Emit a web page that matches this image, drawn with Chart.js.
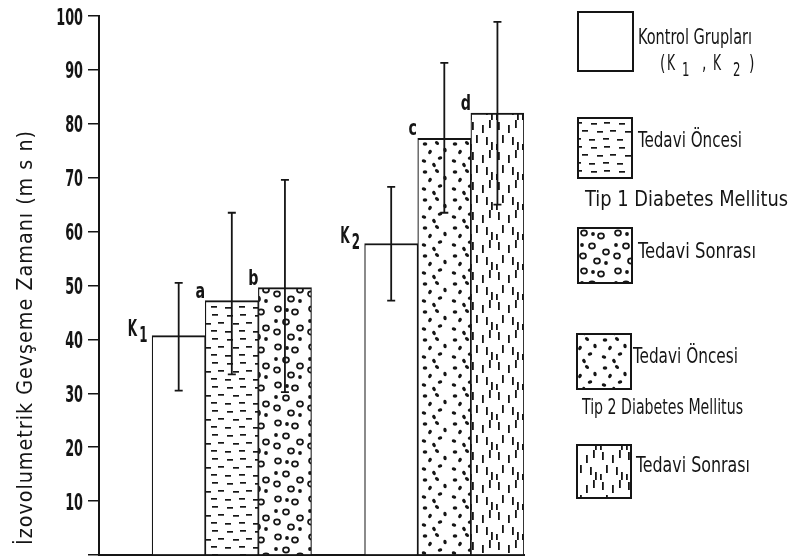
<!DOCTYPE html>
<html>
<head>
<meta charset="utf-8">
<script src="https://cdn.jsdelivr.net/npm/chart.js@4.4.1/dist/chart.umd.min.js"></script>
<style>
  html, body { margin: 0; padding: 0; background: #fff; }
  #wrap { position: relative; width: 791px; height: 558px; }
</style>
</head>
<body>
<div id="wrap"><canvas id="chart" width="791" height="558"></canvas></div>
<script>
// ---- data ----
var slots     = ['', 'K1', 'a', 'b', '', 'K2', 'c', 'd'];
var means     = [null, 40.7, 47.2, 49.6, null, 57.8, 77.3, 82.0];
var errLow    = [null, 30.5, 33.5, 30.2, null, 47.2, 63.5, 65.0];
var errHigh   = [null, 50.5, 63.5, 69.6, null, 68.3, 91.3, 98.9];
var barSeries = [null, 0, 1, 2, null, 0, 3, 4];
var barMain   = [null, 'K', 'a', 'b', null, 'K', 'c', 'd'];
var barSub    = [null, '1', '', '', null, '2', '', ''];

var yTitle       = 'İzovolumetrik Gevşeme Zamanı (m s n)';
var seriesLabels = ['Kontrol Grupları', 'Tedavi Öncesi', 'Tedavi Sonrası', 'Tedavi Öncesi', 'Tedavi Sonrası'];
var groupLabels  = ['Tip 1 Diabetes Mellitus', 'Tip 2 Diabetes Mellitus'];

var FONT = "'DejaVu Sans Condensed', 'DejaVu Sans', sans-serif";
var INK = '#151515';

// ---- fill patterns (hand placed marks in a tile) ----
function makeTile(w, h, draw) {
    var c = document.createElement('canvas');
    c.width = w; c.height = h;
    var g = c.getContext('2d');
    g.fillStyle = '#fff';
    g.fillRect(0, 0, w, h);
    g.fillStyle = INK;
    g.strokeStyle = INK;
    draw(g);
    return c;
}

var tiles = [
    makeTile(8, 8, function (g) {}),
    makeTile(28, 24, function (g) {            // short horizontal dashes
        [[3,3],[16,2],[9,11],[22,10],[1,19],[15,18]].forEach(function (p) { g.fillRect(p[0], p[1], 6, 1.7); });
    }),
    makeTile(34, 38, function (g) {            // rings and a few dots
        g.lineWidth = 1.7;
        [[6,5],[23,8],[14,18],[28,24],[5,28],[19,33]].forEach(function (p) {
            g.beginPath(); g.ellipse(p[0], p[1], 3, 2.6, 0, 0, Math.PI * 2); g.stroke();
        });
        [[15,6],[28,35],[4,17]].forEach(function (p) {
            g.beginPath(); g.arc(p[0], p[1], 1.9, 0, Math.PI * 2); g.fill();
        });
    }),
    makeTile(30, 28, function (g) {            // filled dots
        [[5,4],[17,3],[25,10],[10,12],[20,18],[4,21],[14,25]].forEach(function (p, i) {
            g.beginPath(); g.ellipse(p[0], p[1], 2.3, 1.7, i * 0.7, 0, Math.PI * 2); g.fill();
        });
    }),
    makeTile(26, 30, function (g) {            // short vertical dashes
        [[4,2],[14,5],[21,0],[8,15],[18,17],[2,24],[23,22]].forEach(function (p) {
            g.fillRect(p[0], p[1], 1.8, 8);
        });
    })
];

var ctx = document.getElementById('chart').getContext('2d');
var fills = tiles.map(function (t) { return ctx.createPattern(t, 'repeat'); });

// condensed text: draw squeezed horizontally by sx
function sqText(g, txt, x, y, size, sx, align, weight) {
    g.save();
    g.font = (weight || 'bold') + ' ' + size + 'px ' + FONT;
    g.textAlign = align || 'left';
    g.textBaseline = 'alphabetic';
    g.translate(x, y);
    g.scale(sx, 1);
    g.fillText(txt, 0, 0);
    g.restore();
}

// text fitted to a given width
function fitText(g, txt, x, y, size, width, spacing, weight) {
    g.save();
    g.font = (weight || 'bold') + ' ' + size + 'px ' + FONT;
    g.letterSpacing = (spacing || 0) + 'px';
    var w = g.measureText(txt).width;
    g.textAlign = 'left';
    g.textBaseline = 'alphabetic';
    g.translate(x, y);
    g.scale(width / w, 1);
    g.fillText(txt, 0, 0);
    g.restore();
}

function drawSwatch(g, b, s) {
    g.save();
    g.fillStyle = fills[s];
    g.fillRect(b[0], b[1], b[2], b[3]);
    g.lineWidth = 2;
    g.strokeStyle = INK;
    g.strokeRect(b[0], b[1], b[2], b[3]);
    g.restore();
}

// ---- extras: tick labels, error bars, bar letters, axis title, legend ----
var extras = {
    id: 'extras',
    afterDatasetsDraw: function (chart) {
        var g = chart.ctx;
        var ys = chart.scales.y;
        var meta = chart.getDatasetMeta(0);
        g.save();
        g.strokeStyle = INK;
        g.fillStyle = INK;

        // y tick labels (narrow figures)
        ys.ticks.forEach(function (t) {
            if (t.value === 0) return;
            sqText(g, String(t.value), 83, ys.getPixelForValue(t.value) + 8.5, 23, 0.62, 'right');
        });

        g.lineWidth = 1.8;
        meta.data.forEach(function (bar, i) {
            if (means[i] === null) return;
            var x = bar.x;
            var y1 = ys.getPixelForValue(errLow[i]);
            var y2 = ys.getPixelForValue(errHigh[i]);
            g.beginPath();
            g.moveTo(x, y1); g.lineTo(x, y2);
            g.moveTo(x - 4, y1); g.lineTo(x + 4, y1);
            g.moveTo(x - 4, y2); g.lineTo(x + 4, y2);
            g.stroke();

            var left = bar.x - bar.width / 2;
            if (barSub[i]) {
                sqText(g, barMain[i], left - 15, bar.y, 23, 0.58, 'right', '600');
                sqText(g, barSub[i], left - 13, bar.y + 6, 22, 0.6, 'left', '600');
            } else {
                sqText(g, barMain[i], left - 5, bar.y - 3, 22, 0.72, 'center', '600');
            }
        });

        // y axis title
        g.save();
        g.translate(24, 545);
        g.rotate(-Math.PI / 2);
        fitText(g, yTitle, 0, 8, 22, 415, 1, 'normal');
        g.restore();

        // legend
        var boxes   = [[578, 12, 55, 59], [578, 118, 54, 60], [578, 228, 54, 55], [577, 334, 54, 55], [577, 445, 54, 53]];
        var textPos = [[638, 44, 114], [638, 147, 104], [638, 258, 118], [633, 363, 105], [636, 472, 114]];
        boxes.forEach(function (b, s) {
            drawSwatch(g, b, s);
            fitText(g, seriesLabels[s], textPos[s][0], textPos[s][1], 22, textPos[s][2], 0, 'normal');
        });
        // ( K1 , K2 ) under the control label
        sqText(g, '(', 660, 70, 22, 0.7, 'left', 'normal');
        sqText(g, 'K', 667, 70, 22, 0.62, 'left', 'normal');
        sqText(g, '1', 682, 76, 20, 0.65, 'left', 'normal');
        sqText(g, ',', 702, 70, 22, 0.7, 'left', 'normal');
        sqText(g, 'K', 713, 70, 22, 0.62, 'left', 'normal');
        sqText(g, '2', 733, 76, 20, 0.65, 'left', 'normal');
        sqText(g, ')', 749, 70, 22, 0.7, 'left', 'normal');
        fitText(g, groupLabels[0], 585, 206, 22, 203, 0, 'normal');
        fitText(g, groupLabels[1], 582, 414, 22, 161, 0, 'normal');
        g.restore();
    }
};

var chart = new Chart(ctx, {
    type: 'bar',
    data: {
        labels: slots,
        datasets: [{
            data: means,
            backgroundColor: function (c) {
                var s = barSeries[c.dataIndex];
                return s === null ? '#fff' : fills[s];
            },
            borderColor: INK,
            borderWidth: { top: 2, left: 1.2, right: 1.2, bottom: 0 },
            categoryPercentage: 1,
            barPercentage: 1
        }]
    },
    options: {
        responsive: false,
        animation: false,
        layout: { padding: { top: 16, right: 267, bottom: 3, left: 0 } },
        plugins: { legend: { display: false }, tooltip: { enabled: false } },
        scales: {
            x: {
                grid: { display: false },
                ticks: { display: false },
                border: { color: INK, width: 2 },
                afterFit: function (s) { s.height = 0; }
            },
            y: {
                min: 0,
                max: 100,
                ticks: { stepSize: 10, display: false },
                grid: { drawOnChartArea: false, tickLength: 11, color: INK, lineWidth: 1.5 },
                border: { color: INK, width: 2 },
                afterFit: function (s) { s.width = 99; }
            }
        }
    },
    plugins: [extras]
});
</script>
</body>
</html>
